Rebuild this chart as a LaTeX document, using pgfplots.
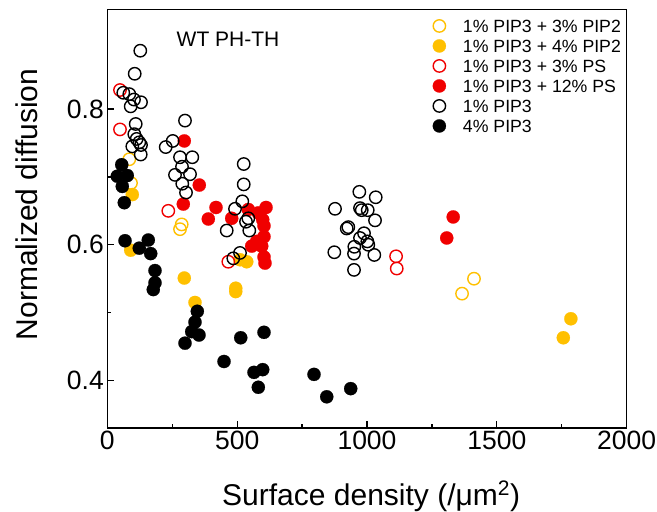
\documentclass[border=0pt]{standalone}
\usepackage{fontspec}
\setmainfont{Liberation Sans}
\usepackage{pgfplots}
\pgfplotsset{compat=1.18}
\definecolor{cyel}{RGB}{255,192,0}
\definecolor{cred}{RGB}{240,0,0}
\begin{document}
\begin{tikzpicture}
\useasboundingbox (-107.3pt,-84pt) rectangle (549.7pt,428pt);
\begin{axis}[
  at={(0pt,0pt)}, anchor=south west, scale only axis,
  width=519.4pt, height=418.7pt,
  xmin=0, xmax=2000, ymin=0.33, ymax=0.947,
  xtick={0,500,1000,1500,2000}, ytick={0.4,0.6,0.8},
  minor x tick num=1, minor y tick num=1,
  tick align=inside, xtick pos=bottom, ytick pos=left,
  major tick length=7pt, minor tick length=4pt,
  axis line style={line width=1.2pt},
  tick style={line width=1.2pt, black},
  /pgf/number format/assume math mode=true,
  /pgf/number format/1000 sep={},
  scaled ticks=false,
  yticklabel style={/pgf/number format/.cd, fixed, fixed zerofill, precision=1},
  tick label style={font=\fontsize{26.5}{30}\selectfont},
  xticklabel style={yshift=1pt},
  xlabel={Surface density (/μm\textsuperscript{2})},
  ylabel={Normalized diffusion},
  label style={font=\fontsize{30}{34}\selectfont},
  xlabel style={at={(axis description cs:0.508,-0.1839)}, anchor=base},
  ylabel style={at={(axis description cs:-0.1353,0.534)}, anchor=base},
  legend style={at={(rel axis cs:0.6205,0.981)}, anchor=north west, draw=none, fill=none,
    font=\fontsize{17.7}{20}\selectfont, row sep=6.9pt, column sep=17pt,
    nodes={inner sep=0pt, text height=13pt, text depth=0pt}},
  legend cell align=left,
  legend image code/.code={\draw plot coordinates {(0pt,0pt)};},
  clip=false,
]
\addplot[only marks, mark=o, mark size=6.2pt, mark options={draw=cyel, line width=1.4pt}] coordinates {
(84.7,0.726)(91.3,0.691)(286.5,0.630)(280,0.623)(1412,0.550)(1366,0.528)};
\addlegendentry{1\% PIP3 + 3\% PIP2}
\addplot[only marks, mark=*, mark size=6.6pt, mark options={draw=cyel, fill=cyel, line width=0.2pt}] coordinates {
(96.3,0.674)(90.1,0.592)(296.5,0.551)(337.7,0.515)(494.5,0.536)(494.5,0.531)(536.8,0.575)(511,0.578)(1785,0.491)(1756,0.463)};
\addlegendentry{1\% PIP3 + 4\% PIP2}
\addplot[only marks, mark=o, mark size=6.2pt, mark options={draw=cred, line width=1.4pt}] coordinates {
(48.9,0.828)(48.9,0.770)(234.9,0.650)(466,0.575)(1112,0.583)(1114.5,0.565)};
\addlegendentry{1\% PIP3 + 3\% PS}
\addplot[only marks, mark=*, mark size=6.6pt, mark options={draw=cred, fill=cred, line width=0.2pt}] coordinates {
(296.5,0.753)(354.3,0.688)(292.7,0.660)(418.6,0.655)(389,0.638)(479,0.639)(543,0.652)(581.5,0.647)(611.2,0.655)(598.4,0.637)(603.4,0.628)(603.4,0.612)(575.3,0.605)(556.1,0.598)(594.6,0.598)(603.4,0.582)(607.3,0.573)(1332,0.641)(1307,0.610)};
\addlegendentry{1\% PIP3 + 12\% PS}
\addplot[only marks, mark=o, mark size=6.2pt, mark options={draw=black, line width=1.4pt}] coordinates {
(127,0.886)(105.5,0.852)(61.6,0.824)(84.7,0.822)(102.8,0.814)(129.8,0.810)(90.1,0.804)(109.4,0.778)(104,0.763)(113.2,0.756)(123.2,0.751)(129.8,0.747)(96.3,0.745)(128.6,0.733)
(299.2,0.783)(251.9,0.753)(224.9,0.744)(280,0.729)(327.3,0.729)(287.7,0.715)(260.7,0.703)(318.5,0.704)(288.8,0.690)(303.1,0.677)
(525.3,0.719)(525.3,0.689)(519.9,0.664)(491.8,0.653)(543,0.639)(534.1,0.634)(459.8,0.621)(546.8,0.621)(511,0.588)(485.2,0.580)
(876.9,0.653)(970.5,0.678)(1033.6,0.670)(973.1,0.654)(979.7,0.651)(1002.8,0.651)(1030.9,0.636)(928.1,0.626)(921.9,0.624)(988.5,0.617)(973.1,0.610)(1001.3,0.605)(1005.1,0.600)(951.2,0.597)(874.2,0.589)(950,0.587)(1028.2,0.585)(950,0.563)};
\addlegendentry{1\% PIP3}
\addplot[only marks, mark=*, mark size=6.6pt, mark options={draw=black, fill=black, line width=0.2pt}] coordinates {
(55.5,0.718)(38.5,0.701)(77,0.702)(57.8,0.686)(65.5,0.662)(68.2,0.606)(123.2,0.595)(157.9,0.607)(167.1,0.587)(183.7,0.562)(183.7,0.544)(177.1,0.534)
(346.6,0.502)(337.7,0.486)(325,0.472)(353.1,0.467)(299.2,0.455)(513.7,0.463)(603.4,0.471)(449.4,0.428)(564.9,0.412)(598.4,0.416)(581.5,0.390)(796,0.409)(844.9,0.376)(937.3,0.388)};
\addlegendentry{4\% PIP3}
\node[anchor=base, font=\fontsize{21}{24}\selectfont] at (rel axis cs:0.2324,0.9107) {WT PH-TH};
\end{axis}
\end{tikzpicture}
\end{document}
